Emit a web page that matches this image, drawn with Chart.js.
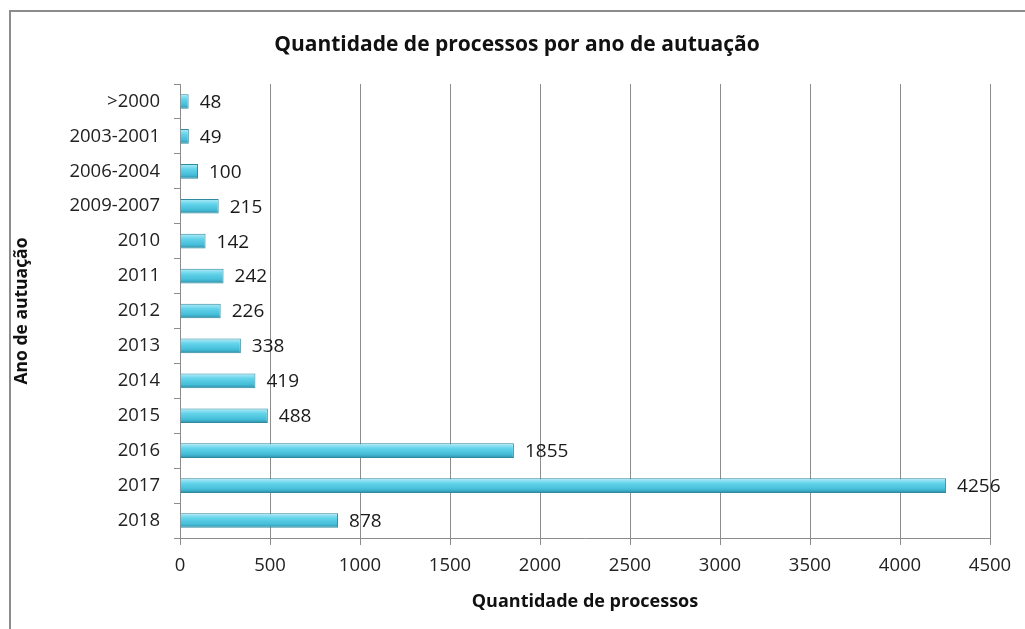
<!DOCTYPE html>
<html>
<head>
<meta charset="utf-8">
<script src="https://cdn.jsdelivr.net/npm/chart.js@4"></script>
<style>
  html, body { margin: 0; padding: 0; background: #fff; }
  #wrap { position: relative; width: 1025px; height: 629px; overflow: hidden; }
  #frame { position: absolute; left: 9px; top: 10px; width: 1030px; height: 640px; border: 2px solid #8c8c8c; box-sizing: border-box; pointer-events: none; }
  canvas { position: absolute; left: 0; top: 0; }
</style>
</head>
<body>
<div id="wrap">
  <canvas id="chart" width="1025" height="629"></canvas>
  <div id="frame"></div>
</div>
<script>
var categories = ['>2000', '2003-2001', '2006-2004', '2009-2007', '2010', '2011', '2012', '2013', '2014', '2015', '2016', '2017', '2018'];
var counts = [48, 49, 100, 215, 142, 242, 226, 338, 419, 488, 1855, 4256, 878];
var xTicks = [0, 500, 1000, 1500, 2000, 2500, 3000, 3500, 4000, 4500];
var titleText = 'Quantidade de processos por ano de autuação';

var FONT = "'Open Sans', 'Noto Sans', sans-serif";

// vertical gradient per bar, using the bar's own position from the last layout
function barFill(ctx) {
    var chart = ctx.chart;
    var el = chart.getDatasetMeta(0).data[ctx.dataIndex];
    if (!el || !el.height) { return '#4cc0da'; }
    var top = el.y - el.height / 2, bottom = el.y + el.height / 2;
    var g = chart.ctx.createLinearGradient(0, top, 0, bottom);
    g.addColorStop(0, '#b4ecf8');
    g.addColorStop(0.35, '#62d3ea');
    g.addColorStop(0.75, '#45bdd8');
    g.addColorStop(1, '#2f8ca4');
    return g;
}

// value labels at the bar ends + the chart title (placed like the original)
var textPlugin = {
    id: 'textPlugin',
    afterDatasetsDraw: function(chart) {
        var ctx = chart.ctx;
        var meta = chart.getDatasetMeta(0);
        ctx.save();
        ctx.font = '19px ' + FONT;
        ctx.fillStyle = '#1a1a1a';
        ctx.textAlign = 'left';
        ctx.textBaseline = 'middle';
        meta.data.forEach(function(bar, i) {
            ctx.fillText(String(counts[i]), bar.x + 11, bar.y + 1);
        });
        ctx.font = 'bold 21px ' + FONT;
        ctx.fillStyle = '#111';
        ctx.textAlign = 'center';
        ctx.fillText(titleText, 517, 45);
        ctx.restore();
    }
};

var chart = new Chart(document.getElementById('chart').getContext('2d'), {
    type: 'bar',
    data: {
        labels: categories,
        datasets: [{
            data: counts,
            backgroundColor: barFill,
            borderColor: '#2f8aa0',
            borderWidth: 1,
            barPercentage: 0.42,
            categoryPercentage: 1
        }]
    },
    options: {
        indexAxis: 'y',
        responsive: false,
        animation: false,
        layout: { padding: { left: 12, top: 84, right: 35, bottom: 15 } },
        plugins: {
            legend: { display: false },
            tooltip: { enabled: false },
            title: { display: false }
        },
        scales: {
            x: {
                min: 0,
                max: 4500,
                afterBuildTicks: function(axis) {
                    axis.ticks = xTicks.map(function(v) { return { value: v }; });
                },
                afterFit: function(axis) { axis.height = 76; },
                grid: { color: '#8c8c8c', lineWidth: 1, tickLength: 7 },
                border: { color: '#8c8c8c' },
                ticks: {
                    color: '#222',
                    font: { family: FONT, size: 18.5 },
                    padding: 10,
                    callback: function(v) { return String(v); }
                },
                title: {
                    display: true,
                    text: 'Quantidade de processos',
                    color: '#111',
                    font: { family: FONT, size: 18, weight: 'bold' },
                    padding: { top: 0, bottom: 1 }
                }
            },
            y: {
                afterFit: function(axis) { axis.width = 168; },
                grid: { offset: true, drawOnChartArea: false, color: '#8c8c8c', tickLength: 6 },
                border: { color: '#8c8c8c' },
                ticks: { color: '#222', font: { family: FONT, size: 18.5 }, padding: 14 },
                title: {
                    display: true,
                    text: 'Ano de autuação',
                    color: '#111',
                    font: { family: FONT, size: 17.5, weight: 'bold' },
                    padding: { top: 0, bottom: 0 }
                }
            }
        }
    },
    plugins: [textPlugin]
});
// second pass so the gradients see the laid-out bar positions
chart.update();
</script>
</body>
</html>
